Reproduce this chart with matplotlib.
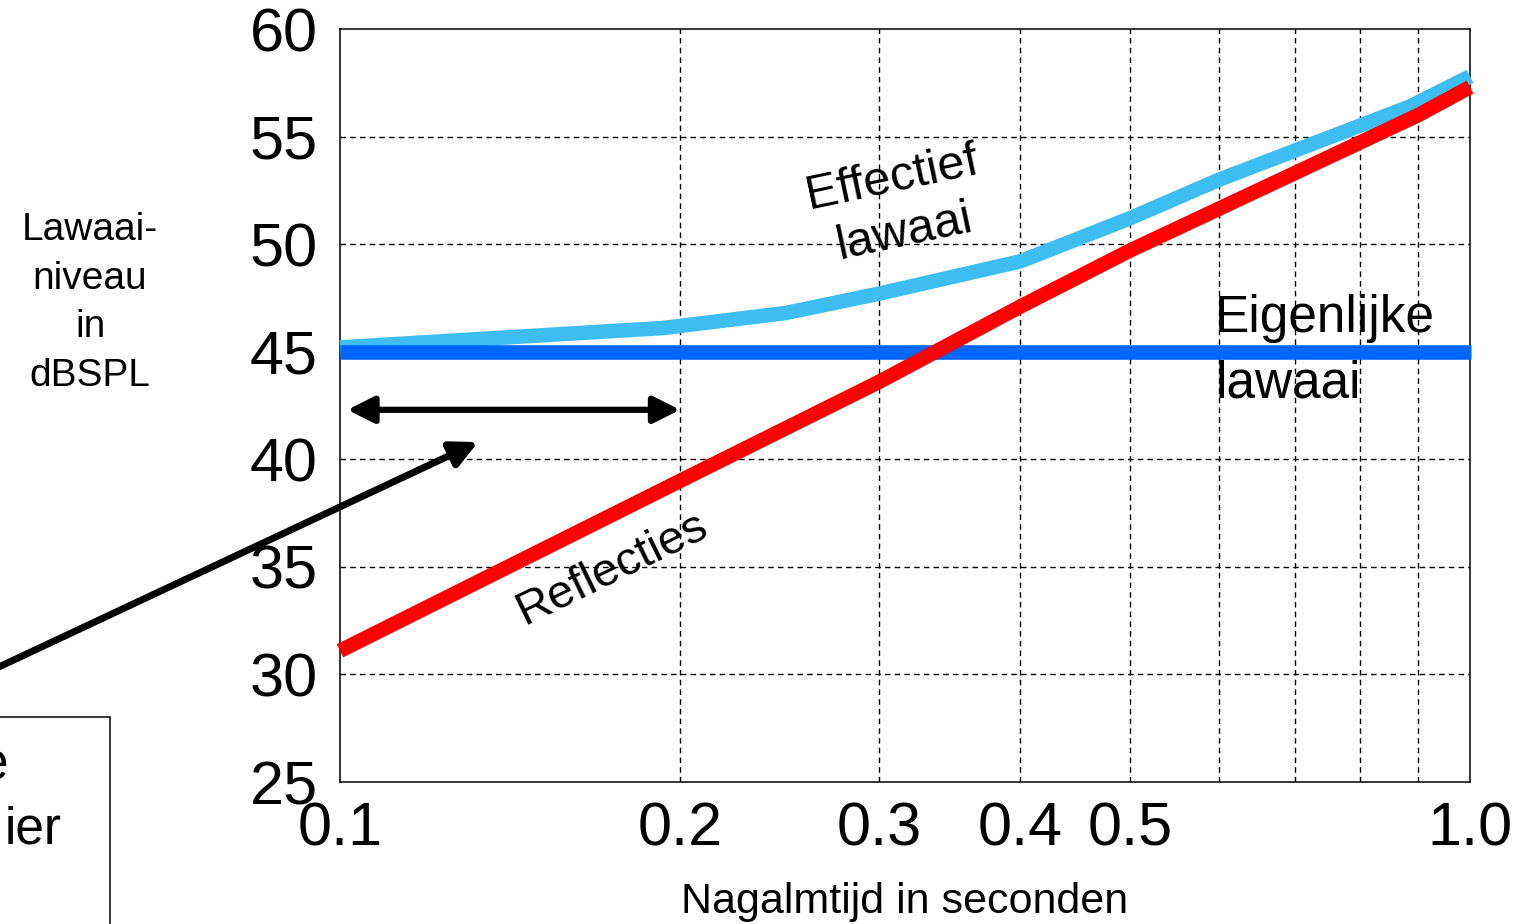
import matplotlib.pyplot as plt
from matplotlib.patches import Rectangle

plt.rcParams['font.family'] = ['Liberation Sans', 'DejaVu Sans']

# nagalmtijd (s) en niveaus (dBSPL)
t_reflecties = [0.1, 0.2, 0.3, 0.4, 0.5, 0.9, 1.0]
l_reflecties = [31.1, 39.0, 43.6, 47.1, 49.7, 56.0, 57.3]

t_effectief = [0.1, 0.193, 0.248, 0.3, 0.4, 0.5, 0.6, 0.885, 1.0]
l_effectief = [45.2, 46.1, 46.8, 47.7, 49.2, 51.2, 53.0, 56.4, 57.8]

t_eigenlijk = [0.1, 1.003]
l_eigenlijk = [45.0, 45.0]

x_ticks = [0.1, 0.2, 0.3, 0.4, 0.5, 1.0]
x_ticklabels = ['0.1', '0.2', '0.3', '0.4', '0.5', '1.0']
x_grid = [0.2, 0.3, 0.4, 0.5, 0.6, 0.7, 0.8, 0.9]
y_ticks = [25, 30, 35, 40, 45, 50, 55, 60]

W, H = 1522, 924
fig = plt.figure(figsize=(W / 100, H / 100), dpi=100)
ax = fig.add_axes([340 / W, (H - 782) / H, 1130 / W, 753 / H])

ax.set_xscale('log')
ax.set_xlim(0.1, 1.0)
ax.set_ylim(25, 60)

# raster
for x in x_grid:
    ax.axvline(x, color='black', lw=1.0, ls=(0, (4, 3)), zorder=1)
for y in y_ticks[1:-1]:
    ax.axhline(y, color='black', lw=1.0, ls=(0, (4, 3)), zorder=1)

ax.plot(t_effectief, l_effectief, color='#3dbdf2', lw=10.5, zorder=3, clip_on=False,
        solid_capstyle='butt')
ax.plot(t_eigenlijk, l_eigenlijk, color='#0066ff', lw=10.5, zorder=4, clip_on=False,
        solid_capstyle='butt')
ax.plot(t_reflecties, l_reflecties, color='#ff0000', lw=10.5, zorder=5, clip_on=False,
        solid_capstyle='butt')

ax.set_xticks(x_ticks)
ax.set_xticklabels(x_ticklabels)
ax.minorticks_off()
ax.set_yticks(y_ticks)
ax.tick_params(length=0, labelsize=44, pad=16)
ax.tick_params(axis='x', pad=14)
for s in ax.spines.values():
    s.set_linewidth(1.1)

ax.set_xlabel('Nagalmtijd in seconden', fontsize=31, labelpad=17)

fig.text(90 / W, 1 - 303 / H, 'Lawaai-\nniveau\nin\ndBSPL', ha='center', va='center',
         fontsize=28, linespacing=1.45)

ax.text(0.595, 45.9, 'Eigenlijke', ha='left', va='baseline', fontsize=37, zorder=6)
ax.text(0.595, 42.85, 'lawaai', ha='left', va='baseline', fontsize=37, zorder=6)

ax.text(0.312, 51.8, 'Effectief\nlawaai', ha='center', va='center', fontsize=35,
        rotation=12, rotation_mode='anchor', linespacing=1.3, zorder=6)
ax.text(0.174, 34.9, 'Reflecties', ha='center', va='center', fontsize=34,
        rotation=26, rotation_mode='anchor', zorder=6)

# pijlen
ax.annotate('', xy=(0.2, 42.3), xytext=(0.1015, 42.3),
            arrowprops=dict(arrowstyle='<|-|>', color='black', lw=4.5, mutation_scale=40,
                            shrinkA=0, shrinkB=0), zorder=7)
ax.annotate('', xy=(0.1325, 40.8), xytext=(-0.005, 1 - 670 / H), textcoords='figure fraction',
            arrowprops=dict(arrowstyle='-|>', color='black', lw=5, mutation_scale=40,
                            shrinkA=0, shrinkB=0), zorder=7, annotation_clip=False)

# kader linksonder
fig.patches.append(Rectangle((-0.05, -0.05), 110 / W + 0.05, (H - 717) / H + 0.05,
                             transform=fig.transFigure, fill=False, ec='black', lw=1.1))
fig.text(8 / W, 1 - 780 / H, 'e', ha='right', va='baseline', fontsize=37)
fig.text(62 / W, 1 - 843 / H, 'ier', ha='right', va='baseline', fontsize=37)

fig.savefig('out.png', dpi=100)
